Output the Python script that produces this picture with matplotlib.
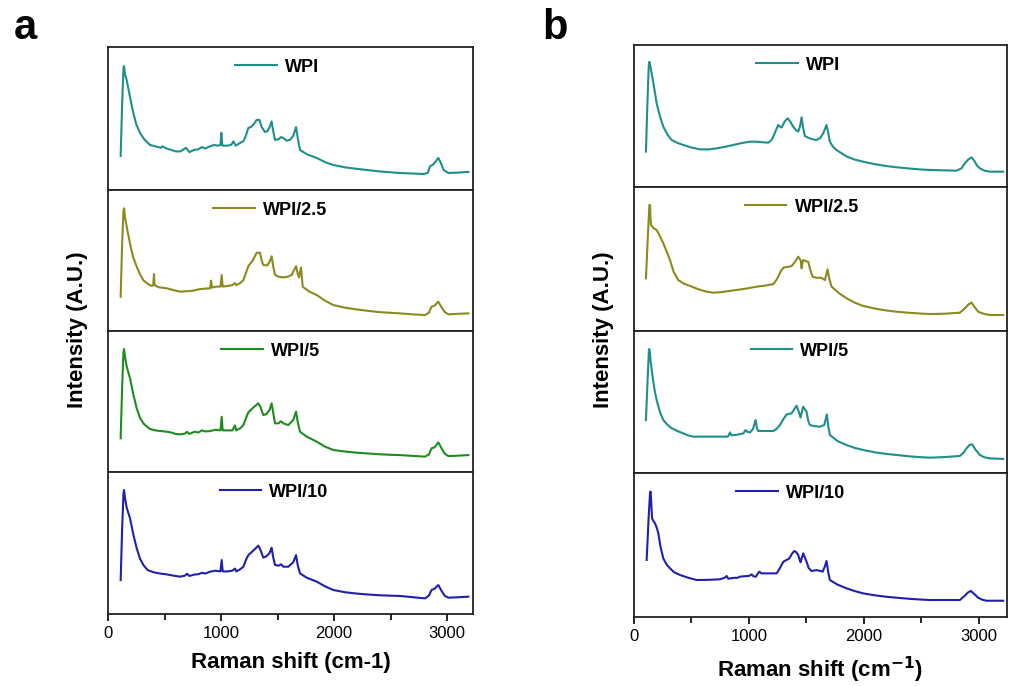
import numpy as np
import matplotlib.pyplot as plt
from matplotlib.ticker import MultipleLocator

plt.rcParams['font.family'] = ['Liberation Sans', 'DejaVu Sans']

# Each spectrum: columns = Raman shift (cm-1), intensity (a.u., 0-100 per strip)
# ---- panel a ----
a_wpi = np.array([
    [112, 23.8], [125, 60], [137, 85], [142, 86.7], [150, 81], [165, 77], [185, 69], [195, 65],
    [210, 59], [224, 54], [250, 46], [283, 40], [320, 35.5], [372, 31.5], [420, 30.5], [470, 29.5],
    [480, 30.5], [520, 29], [560, 28], [600, 27], [640, 27], [690, 29.5], [720, 26.5], [760, 28],
    [800, 28.5], [830, 30], [860, 29], [900, 30.5], [940, 31.5], [970, 31], [995, 31.5], [1003, 40],
    [1012, 31], [1050, 31], [1090, 31.5], [1110, 34], [1130, 31], [1170, 33], [1198, 34],
    [1220, 38], [1242, 43.4], [1265, 44], [1290, 46], [1315, 49], [1340, 49], [1360, 44],
    [1389, 40.6], [1410, 41], [1430, 44], [1448, 48], [1460, 42], [1478, 35], [1510, 35.5],
    [1530, 37], [1552, 36.4], [1580, 34.5], [1610, 35], [1640, 38], [1664, 44], [1680, 36],
    [1699, 28], [1760, 25], [1847, 22.4], [1920, 19.5], [1994, 17.5], [2100, 15.8], [2200, 14.8],
    [2289, 14], [2400, 13], [2500, 12.4], [2584, 11.9], [2700, 11.5], [2791, 11.2], [2830, 12],
    [2850, 16.5], [2880, 18], [2900, 20], [2923, 22.4], [2945, 19], [2970, 14], [3012, 11.9],
    [3100, 12.2], [3189, 12.6]])

a_wpi25 = np.array([
    [112, 24.3], [125, 62], [137, 85], [142, 87], [150, 81], [170, 72], [195, 62], [220, 53],
    [254, 45.6], [285, 40], [313, 36], [350, 33.5], [387, 32], [400, 32.5], [407, 40.4], [412, 32.5],
    [450, 31], [519, 30.3], [580, 29], [637, 27.9], [700, 28.2], [755, 28.6], [800, 29.5],
    [850, 30], [903, 30.3], [912, 35.7], [920, 30.8], [960, 31.5], [995, 31.5], [1006, 39.7],
    [1015, 31.5], [1060, 32], [1100, 32.5], [1124, 34], [1135, 32.5], [1170, 34], [1198, 36],
    [1220, 41], [1242, 46], [1280, 50], [1316, 55.5], [1345, 55.5], [1360, 50], [1374, 46.8],
    [1410, 46.5], [1435, 50], [1448, 53], [1462, 46], [1478, 39.7], [1510, 38.5], [1552, 38],
    [1590, 38.5], [1625, 39.7], [1664, 46], [1678, 41], [1690, 38], [1708, 45], [1723, 31.4],
    [1780, 28], [1847, 25.5], [1920, 21.5], [1994, 18.4], [2100, 16.5], [2200, 15.3],
    [2289, 14.4], [2400, 13.4], [2500, 12.9], [2584, 12.5], [2700, 11.8], [2806, 11.3],
    [2840, 13], [2863, 17.2], [2890, 18], [2923, 20.8], [2950, 17], [2980, 13.5], [3012, 11.8],
    [3100, 12.2], [3189, 12.5]])

a_wpi5 = np.array([
    [112, 23.9], [125, 60], [137, 85], [142, 87.2], [150, 82], [165, 75], [195, 66.4], [224, 55],
    [254, 45.2], [283, 38.5], [313, 34.5], [340, 32.5], [372, 30.5], [420, 29.5], [470, 29],
    [519, 28.6], [560, 28], [600, 27], [637, 26.7], [680, 27.2], [700, 28.5], [720, 27],
    [767, 28.6], [800, 28], [830, 29.5], [860, 28.8], [903, 29], [950, 30], [995, 29.5],
    [1006, 39.2], [1015, 29.5], [1060, 29.5], [1100, 29.5], [1124, 33], [1135, 29.5], [1170, 31],
    [1198, 33.3], [1220, 38], [1242, 42.3], [1290, 46], [1330, 48.7], [1350, 46], [1374, 40.4],
    [1400, 41], [1430, 44], [1448, 48.7], [1462, 42], [1478, 34.5], [1510, 34.5], [1530, 36],
    [1552, 34.5], [1596, 33.3], [1640, 37], [1664, 42.8], [1680, 35], [1699, 28.6], [1760, 25],
    [1847, 21.5], [1920, 18], [1994, 15.6], [2100, 14.5], [2200, 13.7], [2289, 13.2], [2400, 12.6],
    [2500, 12.2], [2584, 12], [2700, 11.4], [2806, 10.9], [2840, 12.5], [2863, 16.8], [2890, 17.5],
    [2923, 21], [2950, 17], [2980, 13], [3012, 11.3], [3100, 11.6], [3189, 12]])

a_wpi10 = np.array([
    [112, 23.9], [125, 60], [137, 85], [142, 87.3], [150, 82], [165, 75], [195, 67.4], [224, 56],
    [254, 46.3], [283, 39], [313, 34.5], [350, 31], [402, 29.4], [460, 28.5], [519, 27.9],
    [580, 27], [637, 26.3], [680, 27], [700, 28.3], [720, 26.8], [767, 27.8], [800, 28], [830, 29],
    [860, 28.5], [903, 29.8], [950, 30.5], [995, 30], [1006, 38], [1015, 30], [1060, 30],
    [1100, 30.5], [1124, 32], [1135, 30], [1170, 31.5], [1198, 33.3], [1220, 38], [1242, 41.5],
    [1290, 45], [1330, 48.1], [1350, 45], [1374, 39.7], [1400, 40.5], [1430, 43], [1448, 46.7],
    [1462, 40], [1478, 34.5], [1510, 34], [1530, 35], [1552, 33.3], [1596, 33.3], [1640, 36.5],
    [1664, 41.5], [1680, 34], [1699, 28.6], [1760, 25.5], [1847, 22.8], [1920, 19.5], [1994, 16.9],
    [2100, 15.3], [2200, 14.4], [2289, 13.8], [2400, 13.2], [2500, 12.9], [2584, 12.7], [2700, 11.8],
    [2806, 11], [2840, 13], [2863, 16.9], [2890, 17.8], [2923, 20.4], [2950, 16.5], [2980, 12.8],
    [3012, 11.5], [3100, 11.8], [3189, 12.2]])

# ---- panel b ----
b_wpi = np.array([
    [104, 24.9], [115, 55], [128, 85], [133, 88.2], [140, 86], [154, 80], [175, 70], [197, 58.9],
    [225, 50], [255, 42.5], [290, 37], [328, 33.1], [380, 31], [429, 29.6], [500, 27.8],
    [574, 26.5], [650, 26.5], [719, 27.2], [790, 28.3], [864, 29.6], [940, 31], [1009, 31.9],
    [1067, 31.9], [1120, 31.5], [1168, 31.2], [1195, 33], [1212, 35.4], [1235, 40], [1255, 43.7],
    [1270, 42.5], [1284, 41.9], [1310, 46], [1336, 48.4], [1360, 46], [1385, 42.5], [1410, 40],
    [1429, 39], [1445, 43], [1458, 49.1], [1470, 42], [1487, 35.9], [1520, 34.5], [1560, 33.5],
    [1588, 33.1], [1620, 34.5], [1646, 37.8], [1675, 43.7], [1690, 38], [1704, 31.9], [1730, 28.5],
    [1762, 26], [1850, 21.5], [1920, 19.3], [1994, 17.8], [2100, 16], [2200, 14.7], [2284, 13.9],
    [2400, 13], [2500, 12.3], [2574, 12], [2700, 11.7], [2806, 11.5], [2850, 13.2], [2878, 16.7],
    [2910, 19.5], [2936, 20.9], [2960, 18.5], [2985, 15], [3009, 13.2], [3050, 11.5], [3096, 10.8],
    [3212, 10.8]])

b_wpi25 = np.array([
    [104, 36.6], [120, 65], [134, 87.5], [139, 87.5], [144, 78], [148, 73.6], [170, 71.5],
    [197, 70.1], [225, 66], [255, 60.9], [285, 55], [313, 49.3], [345, 41], [385, 35.4], [430, 33],
    [487, 31.3], [560, 29], [620, 27.5], [690, 26.6], [760, 27], [830, 27.8], [893, 28.5],
    [980, 29.5], [1067, 30.8], [1140, 31.5], [1212, 32.6], [1235, 35], [1255, 37.7], [1280, 42],
    [1304, 44.2], [1340, 44.5], [1371, 45.1], [1400, 48], [1429, 51.6], [1450, 49], [1458, 43.5],
    [1465, 47], [1472, 49.3], [1495, 48.5], [1516, 48.1], [1535, 42], [1554, 37.7], [1585, 37],
    [1617, 37], [1640, 36.5], [1661, 35.4], [1684, 42.8], [1700, 36], [1719, 30.8], [1780, 26.5],
    [1849, 22.7], [1920, 19.7], [1994, 17.4], [2100, 15.5], [2200, 14.2], [2284, 13.4], [2400, 12.6],
    [2500, 12.1], [2574, 11.8], [2700, 12], [2835, 12.7], [2878, 15.7], [2910, 18.5], [2936, 19.7],
    [2960, 17], [2994, 13.4], [3040, 12], [3096, 11.1], [3212, 11.1]])

b_wpi5 = np.array([
    [104, 37.3], [118, 65], [130, 87], [133, 87.3], [138, 85], [145, 78.4], [165, 66], [180, 58],
    [197, 51.4], [225, 43], [255, 37.3], [290, 34], [328, 31.5], [380, 29.5], [429, 27.9],
    [470, 26.5], [516, 25.6], [600, 25.6], [700, 25.6], [800, 25.6], [820, 25.8], [835, 28.6],
    [849, 26.5], [900, 27], [951, 27.9], [971, 30.3], [985, 29], [1009, 28.6], [1035, 31],
    [1058, 37.3], [1070, 31.5], [1081, 29.6], [1150, 29.6], [1212, 29.6], [1240, 31], [1270, 33.8],
    [1300, 38], [1328, 41.3], [1371, 42], [1395, 45], [1414, 47.4], [1430, 44], [1449, 39],
    [1460, 43], [1472, 46.7], [1485, 45], [1501, 43.2], [1515, 37], [1530, 33.8], [1570, 33],
    [1617, 32.6], [1655, 33.8], [1678, 41.3], [1690, 33], [1704, 26.8], [1770, 22.5], [1849, 19.7],
    [1920, 17.7], [1994, 16.2], [2100, 14.5], [2200, 13.4], [2284, 12.7], [2400, 11.7], [2500, 11.1],
    [2574, 10.8], [2700, 11.2], [2835, 12], [2870, 14.5], [2893, 17.4], [2920, 19.8], [2942, 20.2],
    [2970, 16.5], [3009, 12.7], [3050, 11], [3096, 10.3], [3212, 9.9]])

b_wpi10 = np.array([
    [110, 39.6], [128, 70], [140, 87], [145, 87], [151, 78], [157, 68.5], [170, 66.5], [183, 65],
    [200, 61.5], [212, 58], [230, 49], [255, 40.7], [283, 36.5], [313, 33.8], [350, 31], [400, 29.2],
    [470, 27.3], [545, 25.7], [650, 25.8], [748, 26.2], [790, 27.3], [806, 28.5], [820, 26.6],
    [835, 26.8], [870, 27.2], [900, 27.2], [922, 28], [960, 28.3], [1000, 28.5], [1023, 29.6],
    [1040, 28.2], [1061, 28], [1075, 30], [1090, 31.5], [1108, 30.3], [1125, 30.3], [1180, 30.3],
    [1241, 30.3], [1270, 34], [1299, 38.4], [1325, 39.5], [1351, 40.7], [1375, 44], [1394, 45.8],
    [1412, 45], [1429, 43], [1440, 40], [1449, 38], [1460, 41], [1472, 44.2], [1488, 41],
    [1501, 38.4], [1520, 34], [1545, 31.9], [1588, 32.6], [1620, 32], [1641, 31.5], [1660, 35],
    [1675, 38.9], [1690, 31], [1704, 25.7], [1770, 22.5], [1849, 19.9], [1920, 18], [1994, 16.4],
    [2100, 15], [2200, 14], [2284, 13.4], [2400, 12.6], [2500, 12.1], [2574, 11.8], [2700, 11.8],
    [2835, 11.8], [2878, 14.8], [2905, 17], [2930, 18.1], [2960, 16], [2994, 13.4], [3030, 12],
    [3067, 11.3], [3212, 11.3]])

labels = ['WPI', 'WPI/2.5', 'WPI/5', 'WPI/10']
colors_a = ['#1f8f8c', '#8c8a1c', '#1e8c1e', '#2020b0']
colors_b = ['#1f8f8c', '#8c8a1c', '#1f8f8c', '#2020b0']

W, H = 1014, 686


def make_panel(fig, left, right, edges, xmax, series, colors, leg_x, xlabel):
    axes = []
    for i, spec in enumerate(series):
        top, bot = edges[i], edges[i + 1]
        ax = fig.add_axes([left / W, 1 - bot / H, (right - left) / W, (bot - top) / H])
        ax.plot(spec[:, 0], spec[:, 1], color=colors[i], lw=1.5, label=labels[i])
        ax.set_xlim(0, xmax)
        ax.set_ylim(0, 100)
        ax.set_yticks([])
        for s in ax.spines.values():
            s.set_linewidth(1.3)
            s.set_color('#222222')
        ax.legend(loc='upper center', bbox_to_anchor=(leg_x[i], 1.0), frameon=False,
                  handlelength=2.3, handletextpad=0.45, borderaxespad=0.25,
                  prop={'weight': 'bold', 'size': 13})
        ax.xaxis.set_major_locator(MultipleLocator(1000))
        ax.xaxis.set_minor_locator(MultipleLocator(500))
        if i < len(series) - 1:
            ax.tick_params(axis='x', which='both', bottom=False, labelbottom=False)
        else:
            ax.tick_params(axis='x', which='major', direction='out', length=5, width=1.2,
                           labelsize=12)
            ax.tick_params(axis='x', which='minor', direction='out', length=4, width=1.2)
            ax.set_xlabel(xlabel, fontsize=16, fontweight='bold', labelpad=8)
        axes.append(ax)
    return axes


fig = plt.figure(figsize=(W / 100, H / 100), dpi=100)

make_panel(fig, 108, 473, [47, 190, 331, 472, 614], 3230,
           [a_wpi, a_wpi25, a_wpi5, a_wpi10],
           colors_a, [0.463, 0.445, 0.445, 0.455], 'Raman shift (cm-1)')

make_panel(fig, 634, 1007, [45, 187, 331, 473, 617], 3245,
           [b_wpi, b_wpi25, b_wpi5, b_wpi10],
           colors_b, [0.44, 0.45, 0.445, 0.42], 'Raman shift (cm$^{\\mathbf{-1}}$)')

fig.text(77 / W, 1 - 330 / H, 'Intensity (A.U.)', rotation=90, fontsize=16, fontweight='bold',
         ha='center', va='center')
fig.text(603 / W, 1 - 330 / H, 'Intensity (A.U.)', rotation=90, fontsize=16, fontweight='bold',
         ha='center', va='center')
fig.text(25 / W, 1 - 28 / H, 'a', fontsize=30, fontweight='bold', ha='center', va='center')
fig.text(555 / W, 1 - 28 / H, 'b', fontsize=30, fontweight='bold', ha='center', va='center')

fig.savefig('out.png', dpi=100)
